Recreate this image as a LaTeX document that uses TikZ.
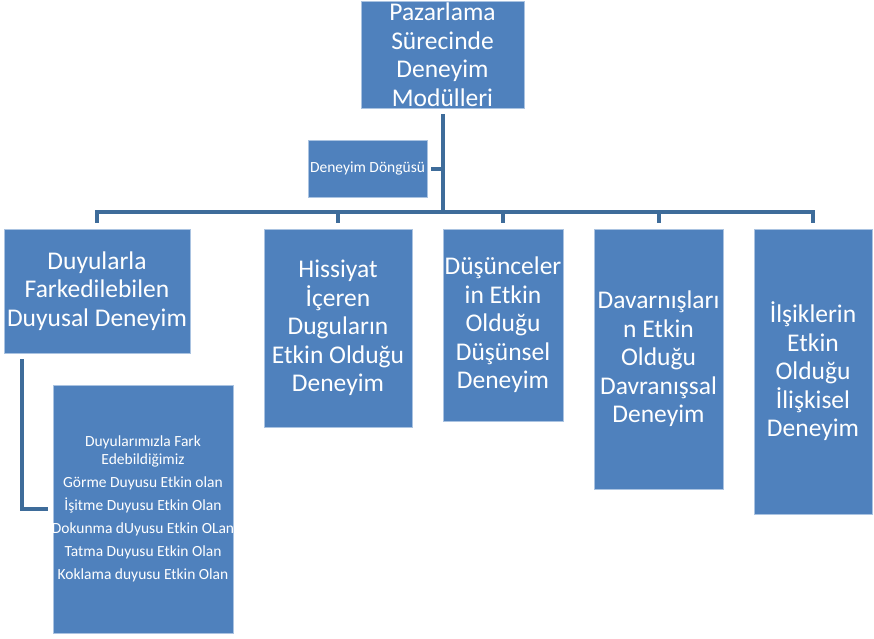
\documentclass[tikz,border=0pt]{standalone}
\usepackage{fontspec}
\setmainfont{Carlito}
\definecolor{boxfill}{RGB}{79,129,189}
\definecolor{boxline}{RGB}{170,195,225}
\definecolor{linkcol}{RGB}{62,108,154}

\tikzset{
  box/.style={draw=boxline, line width=0.8pt, fill=boxfill, text=white, align=center, inner sep=0pt},
  big/.style={font=\fontsize{25.5}{28.5}\selectfont},
  small/.style={font=\fontsize{15.5}{18}\selectfont},
  link/.style={draw=linkcol, line width=4pt}
}

\begin{document}
\begin{tikzpicture}[x=1pt,y=-1pt]
  \useasboundingbox (0,0) rectangle (874,638);
  % root and side box
  \node[box,big,minimum width=163,minimum height=107] (top) at (442.5,54.5) {Pazarlama\\Sürecinde\\Deneyim\\Modülleri};
  \node[box,small,minimum width=119,minimum height=57] (loop) at (367.5,168.5) {Deneyim Döngüsü};
  % five modules
  \node[box,big,minimum width=186,minimum height=124] (d1) at (97,291) {Duyularla\\Farkedilebilen\\Duyusal Deneyim};
  \node[box,big,minimum width=148,minimum height=198] (d2) at (338,328) {Hissiyat\\İçeren\\Duguların\\Etkin Olduğu\\Deneyim};
  \node[box,big,minimum width=120,minimum height=192] (d3) at (503,325) {\makebox[0pt]{Düşünceler}\\in Etkin\\Olduğu\\Düşünsel\\Deneyim};
  \node[box,big,minimum width=129,minimum height=260] (d4) at (658.5,359) {\makebox[0pt]{Davarnışları}\\n Etkin\\Olduğu\\Davranışsal\\Deneyim};
  \node[box,big,minimum width=118,minimum height=285] (d5) at (813,371.5) {İlşiklerin\\Etkin\\Olduğu\\İlişkisel\\Deneyim};
  % senses list
  \node[box,small,minimum width=180,minimum height=248] (sub) at (143,509) {Duyularımızla Fark\\Edebildiğimiz\\[5pt]Görme Duyusu Etkin olan\\[5pt]İşitme Duyusu Etkin Olan\\[5pt]\makebox[0pt]{Dokunma dUyusu Etkin OLan}\\[5pt]Tatma Duyusu Etkin Olan\\[5pt]Koklama duyusu Etkin Olan};

  % connectors
  \coordinate (hub) at (442.5,212);
  \draw[link] ([yshift=-6pt]top.south) -- (hub);
  \draw[link] ([xshift=4pt]loop.east) -- (loop.east -| hub);
  \draw[link] ([yshift=6pt]d1.north) -- (d1.north |- hub) -- (d5.north |- hub) -- ([yshift=6pt]d5.north);
  \foreach \n in {d2,d3,d4}
    \draw[link] (\n.north |- hub) -- ([yshift=6pt]\n.north);
  \draw[link] ([xshift=18pt,yshift=-6pt]d1.south west) |- ([xshift=-5pt]sub.west);
\end{tikzpicture}
\end{document}
